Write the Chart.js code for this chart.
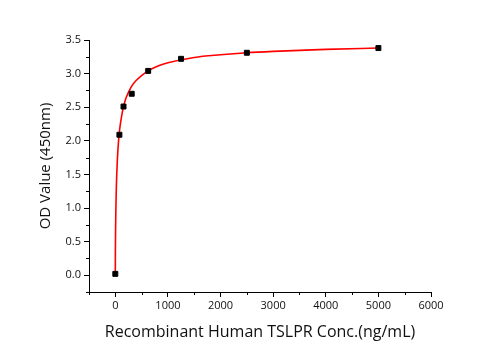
<!DOCTYPE html>
<html>
<head>
<meta charset="utf-8">
<script src="https://cdn.jsdelivr.net/npm/chart.js@4/dist/chart.umd.min.js"></script>
<style>
  body { margin: 0; background: #fff; }
  #wrap { width: 501px; height: 350px; }
</style>
</head>
<body>
<div id="wrap"><canvas id="odChart" width="501" height="350"></canvas></div>
<script>
// measured standards (ng/mL vs OD450)
const concentrations = [0, 78, 156, 312, 625, 1250, 2500, 5000];
const odValues = [0.02, 2.09, 2.51, 2.70, 3.04, 3.22, 3.31, 3.38];

// fitted curve
const fitX = [0, 2, 5, 10, 20, 40, 60, 80, 100, 150, 200, 300, 400, 600, 800, 1000, 1500, 2000, 2500, 3000, 4000, 5000];
const fitY = [0.02, 0.39, 0.66, 0.95, 1.32, 1.73, 1.98, 2.15, 2.27, 2.49, 2.63, 2.80, 2.90, 3.03, 3.11, 3.16, 3.24, 3.28, 3.31, 3.33, 3.36, 3.38];

const xTickStep = 500;
const yTickStep = 0.25;

const fontFamily = "'Open Sans', 'Liberation Sans', sans-serif";

function isMajor(value, every) {
    return Math.abs(value / every - Math.round(value / every)) < 1e-6;
}

// short minor ticks, drawn from the scales
const minorTicks = {
    id: 'minorTicks',
    afterDraw(chart) {
        const ctx = chart.ctx;
        const xs = chart.scales.x;
        const ys = chart.scales.y;
        ctx.save();
        ctx.strokeStyle = '#000';
        ctx.lineWidth = 1;
        ctx.beginPath();
        xs.ticks.forEach(t => {
            if (!isMajor(t.value, 1000)) {
                const px = Math.round(xs.getPixelForValue(t.value)) + 0.5;
                ctx.moveTo(px, xs.top);
                ctx.lineTo(px, xs.top + 3);
            }
        });
        ys.ticks.forEach(t => {
            if (!isMajor(t.value, 0.5)) {
                const py = Math.round(ys.getPixelForValue(t.value)) + 0.5;
                ctx.moveTo(ys.right, py);
                ctx.lineTo(ys.right - 3, py);
            }
        });
        ctx.stroke();
        ctx.restore();
    }
};

const ctx = document.getElementById('odChart');

new Chart(ctx, {
    type: 'scatter',
    data: {
        datasets: [
            {
                label: 'Standards',
                data: concentrations.map((c, i) => ({ x: c, y: odValues[i] })),
                pointStyle: 'rect',
                pointRadius: 3.5,
                pointBackgroundColor: '#000',
                pointBorderColor: '#000',
                showLine: false,
                order: 1,
            },
            {
                label: 'Fit',
                type: 'line',
                data: fitX.map((c, i) => ({ x: c, y: fitY[i] })),
                borderColor: '#ff0000',
                borderWidth: 1.6,
                pointRadius: 0,
                fill: false,
                cubicInterpolationMode: 'monotone',
                order: 2,
            },
        ],
    },
    options: {
        responsive: false,
        animation: false,
        layout: { padding: { top: 40, right: 70, left: 0, bottom: 0 } },
        plugins: {
            legend: { display: false },
            tooltip: { enabled: false },
        },
        scales: {
            x: {
                type: 'linear',
                min: -500,
                max: 6000,
                afterFit: (scale) => { scale.height = 58; },
                ticks: {
                    stepSize: xTickStep,
                    autoSkip: false,
                    maxRotation: 0,
                    padding: 2,
                    color: '#111',
                    font: { family: fontFamily, size: 11 },
                    callback: (v) => isMajor(v, 1000) ? String(v) : '',
                },
                grid: {
                    drawOnChartArea: false,
                    tickLength: 5,
                    tickColor: (c) => (c.tick && isMajor(c.tick.value, 1000)) ? '#000' : 'rgba(0,0,0,0)',
                },
                border: { color: '#000', width: 1 },
                title: {
                    display: true,
                    text: 'Recombinant Human TSLPR Conc.(ng/mL)',
                    color: '#111',
                    font: { family: fontFamily, size: 16 },
                    padding: { top: 0, bottom: 8 },
                },
            },
            y: {
                min: -0.25,
                max: 3.5,
                afterFit: (scale) => { scale.width = 89; },
                ticks: {
                    stepSize: yTickStep,
                    autoSkip: false,
                    padding: 3,
                    color: '#111',
                    font: { family: fontFamily, size: 11 },
                    callback: (v) => isMajor(v, 0.5) ? v.toFixed(1) : '',
                },
                grid: {
                    drawOnChartArea: false,
                    tickLength: 5,
                    tickColor: (c) => (c.tick && isMajor(c.tick.value, 0.5)) ? '#000' : 'rgba(0,0,0,0)',
                },
                border: { color: '#000', width: 1 },
                title: {
                    display: true,
                    text: 'OD Value (450nm)',
                    color: '#111',
                    font: { family: fontFamily, size: 15 },
                    padding: { top: 37, bottom: 0 },
                },
            },
        },
    },
    plugins: [minorTicks],
});
</script>
</body>
</html>
